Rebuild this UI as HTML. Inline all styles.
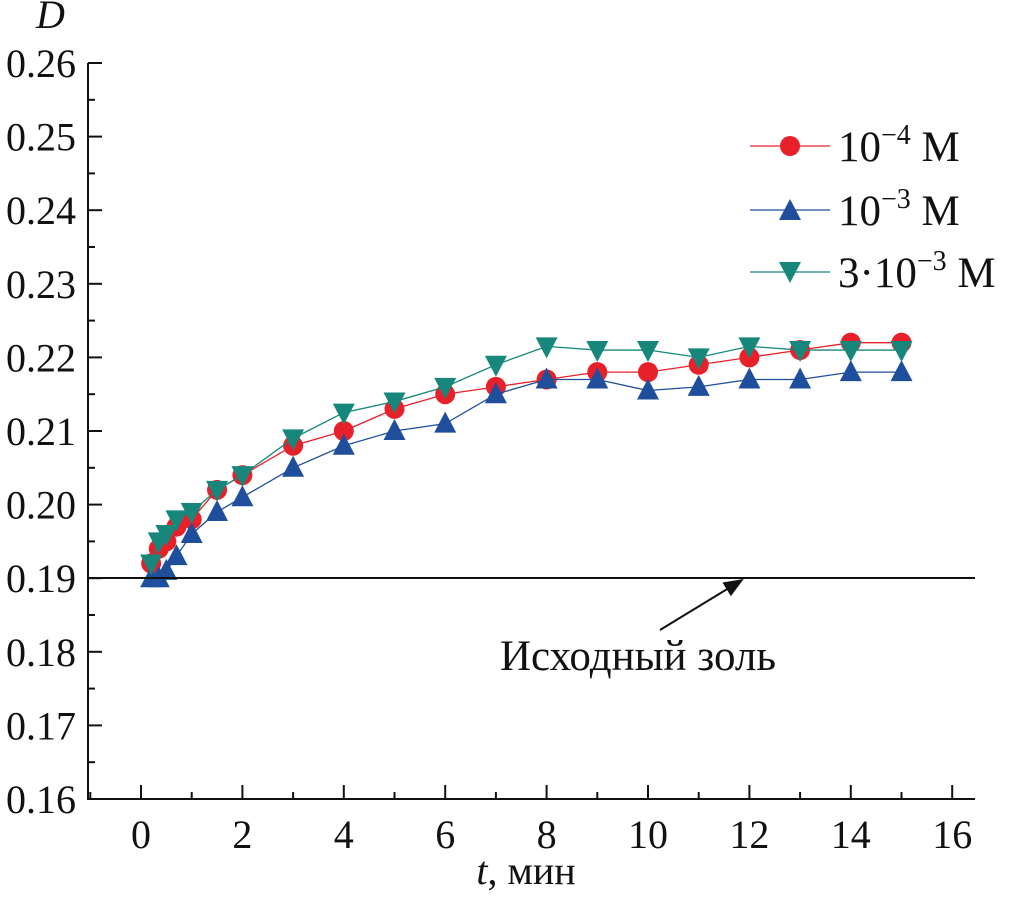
<!DOCTYPE html>
<html><head><meta charset="utf-8"><style>
body{margin:0;background:#fff}
svg text{font-family:"Liberation Serif",serif;fill:#111}
</style></head><body>
<svg id="c" width="1010" height="892" xmlns="http://www.w3.org/2000/svg">
<defs><marker id="ah" markerWidth="10" markerHeight="8" refX="9" refY="4" orient="auto"><path d="M0,0 L10,4 L0,8 Z" fill="#111"/></marker></defs>
<g id="axes"></g><g id="series"></g>
<line x1="88" y1="578" x2="975" y2="578" stroke="#111" stroke-width="2"/>
<line x1="660" y1="630" x2="742" y2="580" stroke="#111" stroke-width="2" marker-end="url(#ah)"/>
<text x="638" y="670" font-size="43" text-anchor="middle">Исходный золь</text>
<text x="36" y="28" font-size="40" font-style="italic">D</text>
<text x="526" y="884" font-size="40" text-anchor="middle"><tspan font-style="italic">t</tspan>, мин</text>
<g>
<g><line x1="750" y1="146" x2="830" y2="146" stroke="#e8202a" stroke-width="1.3"/><circle cx="790" cy="146" r="10" fill="#e8202a"/><text x="838" y="161" font-size="43">10<tspan dy="-17" font-size="28">−4</tspan><tspan dy="17"> M</tspan></text></g>
<g><line x1="750" y1="210" x2="830" y2="210" stroke="#1f4e9c" stroke-width="1.3"/><path d="M779,220 L801,220 L790,199 Z" fill="#1f4e9c"/><text x="838" y="225" font-size="43">10<tspan dy="-17" font-size="28">−3</tspan><tspan dy="17"> M</tspan></text></g>
<g><line x1="750" y1="272" x2="830" y2="272" stroke="#16877a" stroke-width="1.3"/><path d="M779,262 L801,262 L790,283 Z" fill="#16877a"/><text x="838" y="287" font-size="43">3·10<tspan dy="-17" font-size="28">−3</tspan><tspan dy="17"> M</tspan></text></g>
</g>
</svg>
<script>
const tVals=[0.2,0.35,0.5,0.7,1,1.5,2,3,4,5,6,7,8,9,10,11,12,13,14,15];
const red=[0.192,0.194,0.195,0.197,0.198,0.202,0.204,0.208,0.210,0.213,0.215,0.216,0.217,0.218,0.218,0.219,0.220,0.221,0.222,0.222];
const blue=[0.190,0.190,0.191,0.193,0.196,0.199,0.201,0.205,0.208,0.210,0.211,0.215,0.217,0.217,0.2155,0.216,0.217,0.217,0.218,0.218];
const green=[0.192,0.195,0.196,0.198,0.199,0.202,0.204,0.209,0.2125,0.214,0.216,0.219,0.2215,0.221,0.221,0.220,0.2215,0.221,0.221,0.221];
const xTicks=[0,2,4,6,8,10,12,14,16];
const yTicks=[0.16,0.17,0.18,0.19,0.20,0.21,0.22,0.23,0.24,0.25,0.26];
const NS="http://www.w3.org/2000/svg";
const X=v=>141+v*50.7, Y=v=>799-(v-0.16)*7360;
function mk(tag,at,p){const e=document.createElementNS(NS,tag);for(const k in at)e.setAttribute(k,at[k]);p.appendChild(e);return e;}
const ax=document.getElementById('axes');
let l=mk('path',{d:'M88,63 L88,799 L975,799',fill:'none',stroke:'#111','stroke-width':2},ax);


xTicks.forEach(v=>{mk('line',{x1:X(v),y1:799,x2:X(v),y2:785,stroke:'#111','stroke-width':2},ax);
 if(v<16)mk('line',{x1:X(v+1),y1:799,x2:X(v+1),y2:792,stroke:'#111','stroke-width':2},ax);
 const t=mk('text',{x:X(v),y:848,'font-size':40,'text-anchor':'middle'},ax);t.textContent=v;
 
 });
mk('line',{x1:X(-1),y1:799,x2:X(-1),y2:792,stroke:'#111','stroke-width':2},ax);
yTicks.forEach((v,i)=>{mk('line',{x1:88,y1:Y(v),x2:102,y2:Y(v),stroke:'#111','stroke-width':2},ax);
 if(i<yTicks.length-1)mk('line',{x1:88,y1:Y(v+0.005),x2:95,y2:Y(v+0.005),stroke:'#111','stroke-width':2},ax);
 const t=mk('text',{x:76,y:Y(v)+14,'font-size':40,'text-anchor':'end'},ax);t.textContent=v.toFixed(2);
 
 });
const sg=document.getElementById('series');
function draw(vals,col,shape,name){
 const g=mk('g',{},sg);
 
 
 mk('polyline',{points:tVals.map((t,i)=>X(t)+','+Y(vals[i])).join(' '),fill:'none',stroke:col,'stroke-width':1.3},g);
 tVals.forEach((t,i)=>{const x=X(t),y=Y(vals[i]);
  if(shape==='c')mk('circle',{cx:x,cy:y,r:10,fill:col},g);
  else if(shape==='u')mk('path',{d:`M${x-11},${y+9} L${x+11},${y+9} L${x},${y-12} Z`,fill:col},g);
  else mk('path',{d:`M${x-11},${y-9} L${x+11},${y-9} L${x},${y+12} Z`,fill:col},g);});
}
draw(red,'#e8202a','c','series-1e-4');
draw(blue,'#1f4e9c','u','series-1e-3');
draw(green,'#16877a','d','series-3e-3');
</script>
</body></html>
